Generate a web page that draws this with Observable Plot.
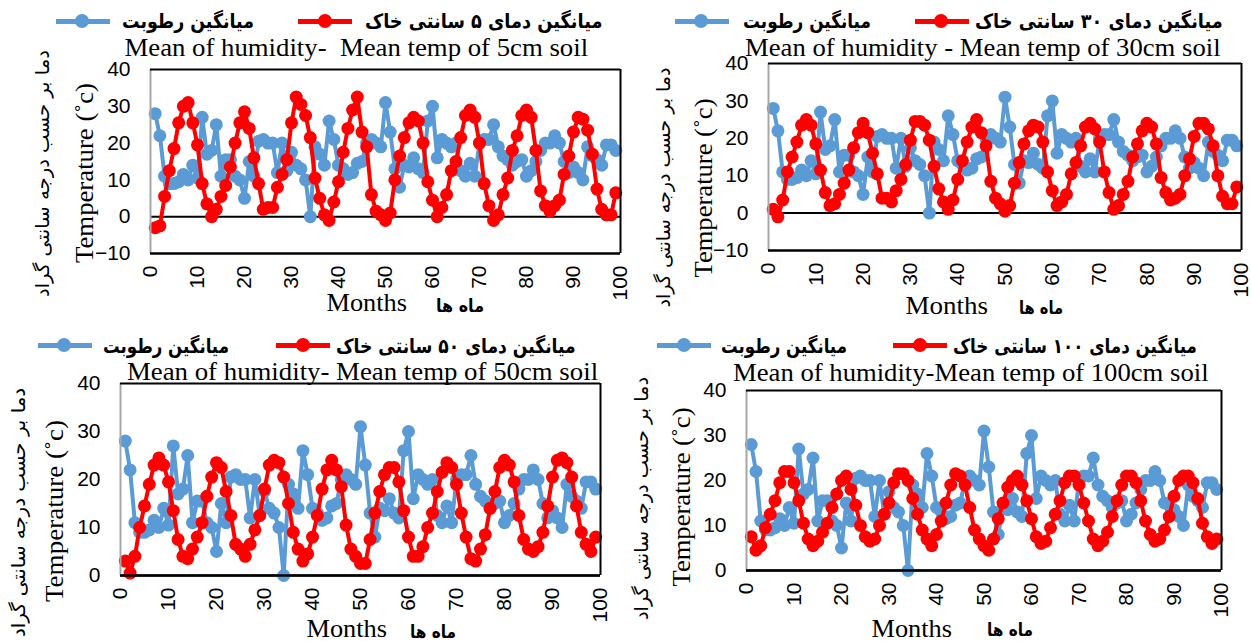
<!DOCTYPE html>
<html><head><meta charset="utf-8">
<script src="https://cdn.jsdelivr.net/npm/d3@7"></script>
<script src="https://cdn.jsdelivr.net/npm/@observablehq/plot@0.6"></script>
<style>
html,body{margin:0;padding:0;background:#fff;}
body{position:relative;width:1251px;height:641px;overflow:hidden;}
.abs{position:absolute;white-space:pre;line-height:1;color:#000;}
.title{font-family:"Liberation Serif",serif;font-size:26px;}
.leg{font-family:"DejaVu Sans",sans-serif;font-weight:bold;font-size:20px;direction:rtl;}
.ytitle{font-family:"Liberation Serif",serif;font-size:26px;}
.fa{font-family:"DejaVu Sans",sans-serif;font-size:19px;direction:rtl;}
.xtitle{font-family:"Liberation Serif",serif;font-size:26px;}
.fab{font-family:"DejaVu Sans",sans-serif;font-weight:bold;font-size:18px;direction:rtl;}
.plot{position:absolute;}
.mk{position:absolute;}
</style></head><body>
<script>
// ---------- data ----------
const months = d3.range(1, 100);
const humidity = [28,22,11,9,9,9.5,11.5,10,14,10.5, 27,17,18,25,11,15.5,15.5,11,10,5, 15,11,20.5,21,20,20,12,20,12.5,17.5, 14,13,10,0,19,17,14,26,21,14, 13,11.5,12,14.5,15,20,21,20,19,31, 23,13,8,14,13.5,16,13,12,26,30, 16,21,20,19,20,12.5,11,14.5,11,20, 21,21,25,19,16.5,15.5,14,15,15.5,11, 12.5,15,18,20,20,22,20,15,12,13.5, 12,10,19,16.5,15.5,14,19.5,19.5,18];
const temp5 = [-3,-2.5,5.5,12.5,18.5,25.5,30,31,25.5,19.5, 9,3.5,0,2,5.5,8.5,13.5,20,25.5,28.5, 24,16,9,2,2.5,2.5,8,11.5,15.5,25.5, 32.5,30.5,27.5,21.5,10.5,5,0.5,-1,4,9.5, 17.5,24,29,32.5,23,19,6,1.5,0.5,-1, 1,10,16.5,21.5,25.5,27,26,20,9.5,4.5, 0,2.5,6,12.5,15,21.5,27.5,29,27,20, 9,3,-1,0.5,6,10.5,18,22,27.5,29, 27,18,7,3,1.5,3,4.5,11.5,16.5,23, 27,26.5,23.5,17,7.5,2,0.5,0.5,6.5];
const temp30 = [1,-1,3.5,11,15,19,23.5,25,23.5,18.5, 11.5,5.5,2,2.5,5,8,11.5,17.5,21.5,24, 21.5,16,10.5,4,4,3,6,9,13,19.5, 24.5,24.5,23.5,19.5,12.5,6.5,3,1,3.5,9, 14,19,23,25,21.5,18,8.5,4,2.5,0.5, 2,8,13.5,18.5,22,23.5,23,19,11,6, 2,3,5,10.5,13.5,18,23,24,22.5,19, 11,5.5,1,2,5,8.5,15,18.5,22,24, 23,18.5,9.5,5.5,3.5,4,5,10,14.5,20.5, 24,24,22.5,18,10,4.5,2.5,2.5,7];
const temp50 = [3,0.5,4,10,14.5,19,23,24.5,23,19.5, 13.5,7.5,4,3.5,5.5,8,11,16.5,20.5,23.5, 22.5,17.5,12.5,6.5,5.5,4,6.5,9.5,12.5,18, 23,24,23.5,20.5,15,9,5.5,3,4.5,8, 12.5,18,22,24,22,18.5,10.5,5.5,4,2.5, 2.5,7.5,13,17.5,21,22.5,22.5,19.5,13.5,8, 4,4,6,10,13,17.5,21.5,23.5,22.5,19, 13,8,3.5,3,5.5,8.5,14,17.5,22.5,24, 23,19.5,12.5,7.5,5.5,5,6,9,14.5,20.5, 24,24.5,23.5,20.5,14.5,9,6.5,5,8];
const temp100 = [7.5,4.5,5.5,9.5,12.5,15.5,19.5,22,22,19.5, 15.5,10.5,7,5.5,6.5,8.5,10.5,14,17,20, 21,18,14.5,10,7.5,6.5,7,10,12.5,15, 19.5,21.5,21.5,20,16,12.5,9,7,5.5,8, 11,15,19,21.5,21,19,14,9,7,5.5, 4.5,7,11.5,15,18.5,20,21,19,15.5,11.5, 7.5,6,6.5,9.5,12.5,15.5,19.5,21,21,19, 15,11,7,5.5,6.5,8.5,12,15.5,19,21, 21,19.5,15.5,11,8,6.5,7,9,12,16.5, 20,21,21,19.5,16,10.5,7.5,6,7];

const xTicks = [0,10,20,30,40,50,60,70,80,90,100];
const yTicksTop = [-10,0,10,20,30,40];
const yTicksBottom = [0,10,20,30,40];

const titles = ["Mean of humidity-  Mean temp of 5cm soil", "Mean of humidity - Mean temp of 30cm soil", "Mean of humidity- Mean temp of 50cm soil", "Mean of humidity-Mean temp of 100cm soil"];
const humLabel = "میانگین رطوبت";
const tempLabels = ["میانگین دمای ۵ سانتی خاک", "میانگین دمای ۳۰ سانتی خاک", "میانگین دمای ۵۰ سانتی خاک", "میانگین دمای ۱۰۰ سانتی خاک"];
const yLabel = "Temperature (˚c)";
const yLabelFa = "دما بر حسب درجه سانتی گراد";
const xLabel = "Months";
const xLabelFa = "ماه ها";

const BLUE = "#5b9bd5", RED = "#ff0000";

// ---------- layout ----------
const panels = [
  {temp: temp5, title: titles[0], tl: tempLabels[0], yDomain: [-10,40], yTicks: yTicksTop,
   svg: {left: 0, top: 60, w: 625, h: 250, ml: 150, mr: 5, mt: 9, mb: 57},
   titlePos: [356, 48, 464], legY: 21, legTextY: 21,
   blueLine: [56,110,82], blueText: [188,132], redLine: [298,352,325], redText: [483,237],
   yT: [84,173,180], yFa: [42,173,247], xT: [366,303,80], xFa: [460,306,48]},
  {temp: temp30, title: titles[1], tl: tempLabels[1], yDomain: [-10,40], yTicks: yTicksTop,
   svg: {left: 625, top: 55, w: 626, h: 250, ml: 143, mr: 10, mt: 8, mb: 55},
   titlePos: [983, 48, 476], legY: 21, legTextY: 21,
   blueLine: [675,729,701], blueText: [807,128], redLine: [915,969,941], redText: [1099,248],
   yT: [703,188,179], yFa: [663,187,240], xT: [946,306,82], xFa: [1041,308,44]},
  {temp: temp50, title: titles[2], tl: tempLabels[2], yDomain: [0,40], yTicks: yTicksBottom,
   svg: {left: 0, top: 375, w: 625, h: 266, ml: 120, mr: 25, mt: 8, mb: 66},
   titlePos: [362, 372, 471], legY: 345, legTextY: 346,
   blueLine: [38,92,64], blueText: [166,126], redLine: [276,330,303], redText: [456,240],
   yT: [54,511,182], yFa: [18,512,249], xT: [346,629,80], xFa: [433,632,46]},
  {temp: temp100, title: titles[3], tl: tempLabels[3], yDomain: [0,40], yTicks: yTicksBottom,
   svg: {left: 625, top: 380, w: 626, h: 261, ml: 121, mr: 30, mt: 10, mb: 71},
   titlePos: [971, 373, 476], legY: 345, legTextY: 346,
   blueLine: [657,711,684], blueText: [784,126], redLine: [893,947,920], redText: [1075,244],
   yT: [681,497,179], yFa: [641,498,243], xT: [911,629,80], xFa: [1010,630,46]}
];

function label(txt, cls, cx, cy, w, rot) {
  const el = document.createElement("div");
  el.className = "abs " + cls;
  el.textContent = txt;
  document.body.appendChild(el);
  const ow = el.offsetWidth, oh = el.offsetHeight;
  const s = w ? w / ow : 1;
  el.style.left = (cx - ow / 2) + "px";
  el.style.top = (cy - oh / 2) + "px";
  el.style.transform = `rotate(${rot || 0}deg) scaleX(${s})`;
  return el;
}

function marker(color, x1, x2, cx, y) {
  const ln = document.createElement("div");
  ln.className = "mk";
  Object.assign(ln.style, {left: x1 + "px", top: (y - 2.5) + "px", width: (x2 - x1) + "px", height: "5px", background: color});
  document.body.appendChild(ln);
  const c = document.createElement("div");
  c.className = "mk";
  Object.assign(c.style, {left: (cx - 7) + "px", top: (y - 7) + "px", width: "14px", height: "14px", borderRadius: "50%", background: color});
  document.body.appendChild(c);
}

for (const p of panels) {
  const rows = months.map((m, i) => ({month: m, hum: humidity[i], temp: p.temp[i]}));
  const [y0, y1] = p.yDomain;
  const s = p.svg;
  const chart = Plot.plot({
    width: s.w, height: s.h,
    marginLeft: s.ml, marginRight: s.mr, marginTop: s.mt, marginBottom: s.mb,
    style: {fontFamily: "'Liberation Sans', sans-serif", fontSize: "21px", color: "black", background: "transparent", overflow: "visible"},
    x: {domain: [0, 100]},
    y: {domain: p.yDomain},
    marks: [
      Plot.ruleY([0], {stroke: "black", strokeWidth: 2}),
      Plot.line(rows, {x: "month", y: "hum", stroke: BLUE, strokeWidth: 4}),
      Plot.dot(rows, {x: "month", y: "hum", r: 6.5, fill: BLUE}),
      Plot.line(rows, {x: "month", y: "temp", stroke: RED, strokeWidth: 4}),
      Plot.dot(rows, {x: "month", y: "temp", r: 6.5, fill: RED}),
      Plot.ruleX([0], {stroke: "#a6a6a6", strokeWidth: 2}),
      Plot.ruleX([100], {stroke: "black", strokeWidth: 2}),
      Plot.ruleY([y1], {stroke: "black", strokeWidth: 2}),
      Plot.ruleY([y0], {stroke: "black", strokeWidth: 2.5}),
      Plot.axisX(xTicks, {tickRotate: -90, tickSize: 0, tickPadding: 12, label: null, fontSize: 21}),
      Plot.axisY(p.yTicks, {tickSize: 0, tickPadding: 20, label: null, fontSize: 21})
    ]
  });
  chart.classList.add("plot");
  chart.style.left = s.left + "px";
  chart.style.top = s.top + "px";
  document.body.appendChild(chart);

  label(p.title, "title", p.titlePos[0], p.titlePos[1], p.titlePos[2], 0);
  marker(BLUE, p.blueLine[0], p.blueLine[1], p.blueLine[2], p.legY);
  marker(RED, p.redLine[0], p.redLine[1], p.redLine[2], p.legY);
  label(humLabel, "leg", p.blueText[0], p.legTextY, p.blueText[1], 0);
  label(p.tl, "leg", p.redText[0], p.legTextY, p.redText[1], 0);
  label(yLabel, "ytitle", p.yT[0], p.yT[1], p.yT[2], -90);
  label(yLabelFa, "fa", p.yFa[0], p.yFa[1], p.yFa[2], -90);
  label(xLabel, "xtitle", p.xT[0], p.xT[1], p.xT[2], 0);
  label(xLabelFa, "fab", p.xFa[0], p.xFa[1], p.xFa[2], 0);
}
</script></body></html>
